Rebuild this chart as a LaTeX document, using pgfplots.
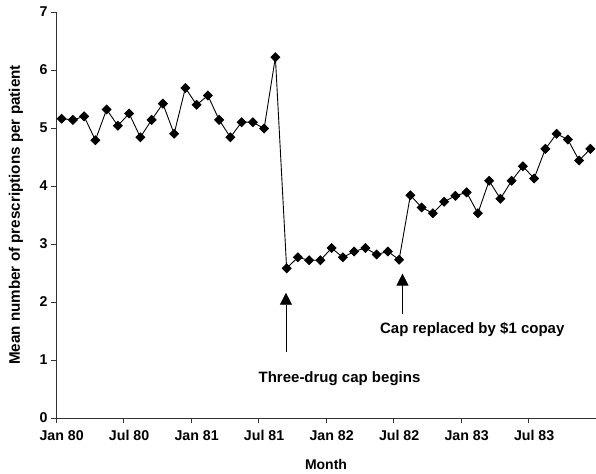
\documentclass[border=0pt]{standalone}
\usepackage{pgfplots}
\pgfplotsset{compat=1.18}
\usepackage{fontspec}
\setmainfont{Liberation Sans}
\usetikzlibrary{arrows.meta,calc}
\pgfplotstableread{
m v
0 5.16
1 5.14
2 5.20
3 4.79
4 5.32
5 5.04
6 5.25
7 4.84
8 5.14
9 5.42
10 4.90
11 5.69
12 5.40
13 5.56
14 5.14
15 4.84
16 5.10
17 5.10
18 4.99
19 6.22
20 2.58
21 2.77
22 2.72
23 2.72
24 2.93
25 2.77
26 2.87
27 2.93
28 2.82
29 2.87
30 2.73
31 3.84
32 3.63
33 3.53
34 3.73
35 3.83
36 3.89
37 3.53
38 4.09
39 3.78
40 4.09
41 4.34
42 4.13
43 4.64
44 4.90
45 4.80
46 4.44
47 4.64
}\rx
\begin{document}
\begin{tikzpicture}
\begin{axis}[
  scale only axis,
  width=540pt, height=406pt,
  xmin=-0.5, xmax=47.5, ymin=0, ymax=7,
  axis lines=left, axis line style={-, line width=0.8pt, black!80},
  tick align=outside,
  major tick length=5pt,
  tick style={line width=0.8pt, black!80},
  ytick={0,1,...,7},
  xtick={0,6,...,42},
  xticklabels={Jan 80,Jul 80,Jan 81,Jul 81,Jan 82,Jul 82,Jan 83,Jul 83},
  x tick style={draw=none},
  extra x ticks={-0.5,5.5,...,47.5},
  extra x tick labels={},
  extra x tick style={x tick style={draw=black!80, line width=0.8pt}},
  /pgf/number format/assume math mode=true,
  tick label style={font=\fontsize{14.2}{17}\selectfont\bfseries},
  xticklabel style={yshift=-4pt},
  xlabel={Month},
  xlabel style={font=\fontsize{14}{17}\selectfont\bfseries, yshift=-2pt},
  ylabel={Mean number of prescriptions per patient},
  ylabel style={font=\fontsize{15.2}{18}\selectfont\bfseries, at={(axis description cs:-0.074,0.5)}, anchor=center},
  clip=false,
]
\addplot[black, line width=0.9pt, mark=square*, mark size=3.1pt,
  mark options={rotate=45, solid, fill=black}] table[x=m,y=v] {\rx};
\draw[line width=0.8pt, -{Triangle[width=12pt,length=12pt]}] (axis cs:19.94,1.13) -- (axis cs:19.94,2.16);
\draw[line width=0.8pt, -{Triangle[width=12pt,length=12pt]}] (axis cs:30.3,1.80) -- (axis cs:30.3,2.49);
\node[font=\fontsize{15}{18}\selectfont\bfseries] at (axis cs:24.7,0.67) {Three-drug cap begins};
\node[font=\fontsize{15}{18}\selectfont\bfseries] at (axis cs:36.5,1.52) {Cap replaced by \$1 copay};
\end{axis}
\pgfresetboundingbox
\path ($(current axis.south west)+(-56pt,-56pt)$) rectangle ($(current axis.north east)+(0pt,12pt)$);
\end{tikzpicture}
\end{document}
